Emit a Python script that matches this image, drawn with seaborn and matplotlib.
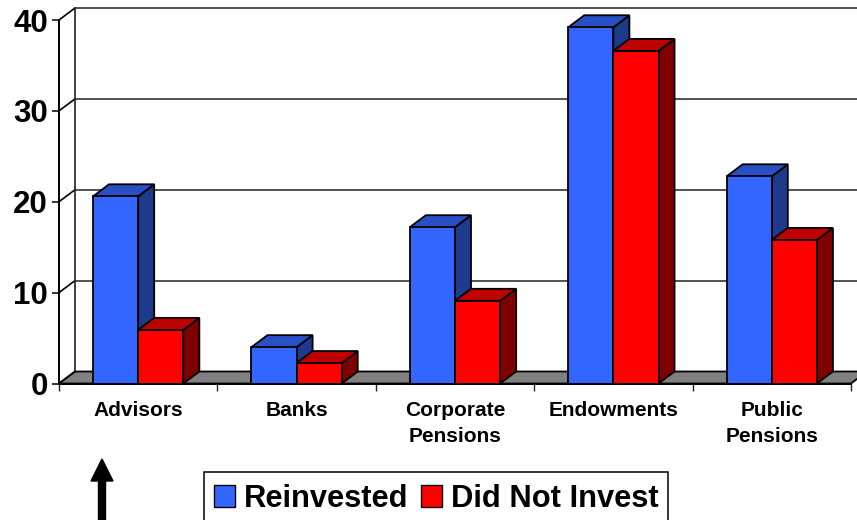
import matplotlib
matplotlib.use("Agg")
import matplotlib.pyplot as plt
import pandas as pd
import seaborn as sns
from matplotlib.patches import FancyArrow, Patch, Polygon, Rectangle
from matplotlib.transforms import IdentityTransform

categories = ["Advisors", "Banks", "Corporate\nPensions", "Endowments", "Public\nPensions"]
reinvested = [20.6, 4.0, 17.2, 39.2, 22.8]
did_not_invest = [5.9, 2.25, 9.1, 36.6, 15.8]
y_ticks = [0, 10, 20, 30, 40]
series_names = ["Reinvested", "Did Not Invest"]

FRONT = {"Reinvested": "#3366FF", "Did Not Invest": "#FF0000"}
TOP = {"#3366FF": "#2850C4", "#FF0000": "#BF0000"}
SIDE = {"#3366FF": "#1D3A8C", "#FF0000": "#800000"}
DX, DY = 16, 12  # extruded depth of the chart, in pixels

W, H = 857, 520
sns.set_theme(style="white")
plt.rcParams["font.family"] = ["Liberation Sans", "DejaVu Sans"]

frame = pd.DataFrame({
    "category": categories * 2,
    "series": [series_names[0]] * 5 + [series_names[1]] * 5,
    "value": reinvested + did_not_invest,
})

fig = plt.figure(figsize=(W / 100, H / 100), dpi=100)
ax = fig.add_axes([59 / W, (H - 383.5) / H, (851 - 59) / W, 363.5 / H])
sns.barplot(data=frame, x="category", y="value", hue="series", hue_order=series_names,
            palette=FRONT, width=0.57, gap=0, saturation=1, legend=False,
            edgecolor="black", linewidth=1.3, ax=ax)
ax.set_xlim(-0.5, 4.5)
ax.set_ylim(0, 40)
ax.set_xlabel("")
ax.set_ylabel("")
fig.canvas.draw()


def to_px(x, y):
    return ax.transData.transform((x, y))


def poly(points, color, z, edge="black", lw=1.3):
    fig.add_artist(Polygon(points, closed=True, facecolor=color, edgecolor=edge, linewidth=lw,
                           transform=IdentityTransform(), zorder=z, clip_on=False))


def seg(p, q, z, color="black", lw=1.2):
    fig.add_artist(plt.Line2D([p[0], q[0]], [p[1], q[1]], color=color, linewidth=lw,
                              transform=IdentityTransform(), zorder=z))


# Back wall, floor and gridlines sit behind every bar
x_left, x_right = ax.get_xlim()
origin = to_px(x_left, 0)
end = to_px(x_right, 0)
poly([origin, end, end + (DX, DY), origin + (DX, DY)], "#808080", 1)
seg(origin + (DX, DY), to_px(x_left, 40) + (DX, DY), 1.5, "#222222")
for t in y_ticks:
    a = to_px(x_left, t)
    b = to_px(x_right, t)
    seg(a, a + (DX, DY), 1.5, "black")
    if t > 0:
        seg(a + (DX, DY), b + (DX, DY), 1.5, "#333333")

# Each bar gets side and top faces; left-to-right order lets red overlap the blue side
ax.set_zorder(5)
ax.patch.set_visible(False)
bars = sorted(ax.patches, key=lambda p: p.get_x())
for i, bar in enumerate(bars):
    x0, x1 = bar.get_x(), bar.get_x() + bar.get_width()
    h = bar.get_height()
    color = matplotlib.colors.to_hex(bar.get_facecolor()).upper()
    bl, br, tl, tr = to_px(x0, 0), to_px(x1, 0), to_px(x0, h), to_px(x1, h)
    z = 2 + i * 0.1
    poly([br, br + (DX, DY), tr + (DX, DY), tr], SIDE[color], z)
    poly([tl, tr, tr + (DX, DY), tl + (DX, DY)], TOP[color], z + 0.01)
    poly([bl, br, tr, tl], color, z + 0.02)
    bar.set_visible(False)

# Axis styling
for side in ("top", "right"):
    ax.spines[side].set_visible(False)
for side in ("left", "bottom"):
    ax.spines[side].set_color("black")
    ax.spines[side].set_linewidth(1.4)
ax.set_yticks(y_ticks)
ax.tick_params(axis="y", length=5, width=1.1, color="black", pad=3, labelsize=22.5, left=True)
for lab in ax.get_yticklabels():
    lab.set_fontweight("bold")
    lab.set_color("black")
ax.set_xticks([c - 0.5 for c in range(6)], minor=True)
ax.tick_params(axis="x", which="minor", length=5, width=1, color="#222222", bottom=True)
ax.tick_params(axis="x", which="major", length=0, pad=12.5, labelsize=15)
for lab in ax.get_xticklabels():
    lab.set_fontweight("bold")
    lab.set_color("black")
    lab.set_linespacing(1.48)

# Legend below the plot, inside its own box
fig.add_artist(Rectangle((204, -2), 464, H - 472 + 2, facecolor="white", edgecolor="black",
                         linewidth=1.1, transform=IdentityTransform(), zorder=7))
handles = [Patch(facecolor=FRONT[n], edgecolor="black", linewidth=1, label=n) for n in series_names]
leg = fig.legend(handles=handles, loc="upper left", bbox_to_anchor=(204 / W, 1 - 474 / H),
                 ncol=2, frameon=False, borderaxespad=0, prop={"size": 22.2, "weight": "bold"},
                 handlelength=0.68, handleheight=0.68, handletextpad=0.29,
                 columnspacing=0.42, borderpad=0.32)
leg.set_zorder(8)
for text in leg.get_texts():
    text.set_color("black")

# Upward arrow in the lower-left corner
fig.add_artist(FancyArrow(102, 0, 0, H - 459, width=7, head_width=22, head_length=22,
                          length_includes_head=True, color="black",
                          transform=IdentityTransform(), zorder=6))

fig.savefig("out.png", dpi=100)
